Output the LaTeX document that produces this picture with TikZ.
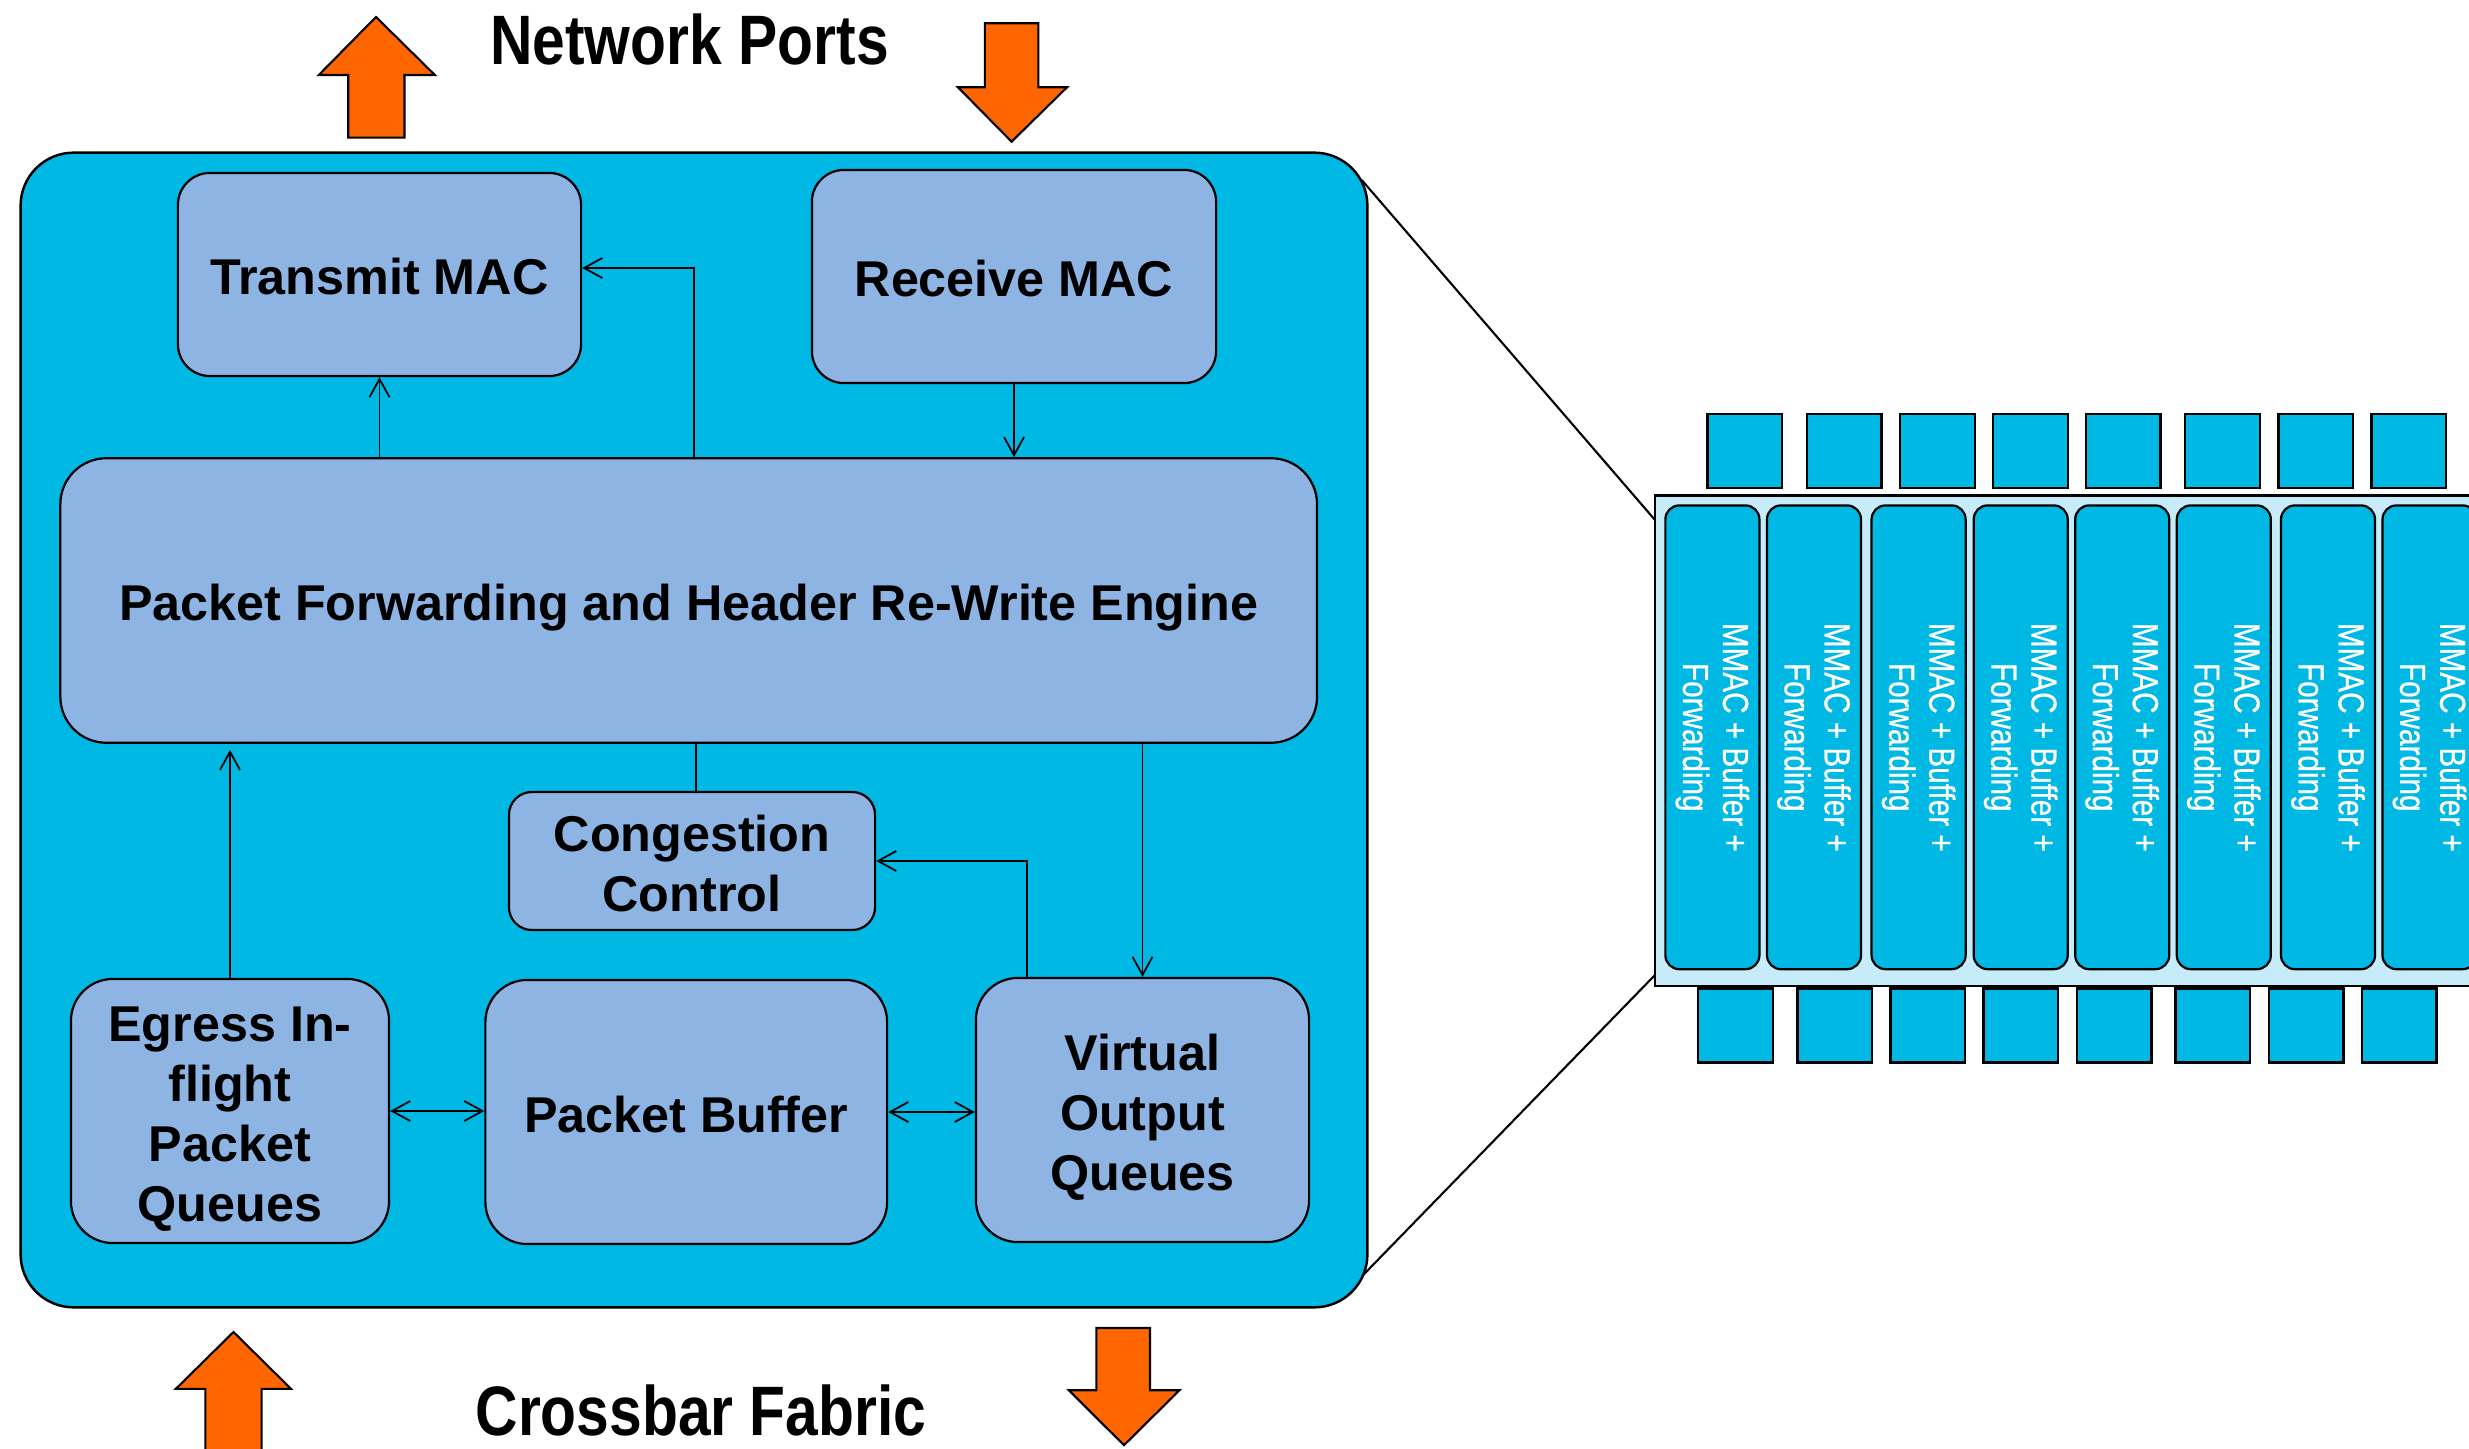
\documentclass[tikz,border=0pt]{standalone}
\usepackage{fontspec}
\setmainfont{Liberation Sans}
\newfontfamily\condfont[FakeStretch=0.84]{Liberation Sans}
\newfontfamily\narrowfont[FakeStretch=0.82,FakeBold=0.6]{Liberation Sans}
\usetikzlibrary{arrows.meta}
\definecolor{chipcyan}{HTML}{00B8E4}
\definecolor{blockblue}{HTML}{8EB4E3}
\definecolor{paleblue}{HTML}{C5ECF8}
\definecolor{portorange}{HTML}{FF6600}
% struts that fix the first-line height and last-line depth of block labels
\newcommand{\topstrut}{\rule{0pt}{14.3pt}}
\newcommand{\botstrut}{\rule[-2.7pt]{0pt}{2.7pt}}
\tikzset{
  chip/.style={draw=black, line width=0.7pt, fill=chipcyan, rounded corners=0.53cm,
    minimum width=13.46cm, minimum height=11.54cm, inner sep=0pt},
  block/.style={draw=black, line width=0.63pt, fill=blockblue, rounded corners=#1,
    inner sep=0pt, align=center, font=\bfseries\fontsize{14.3}{17.07}\selectfont},
  wire/.style={line width=0.5pt},
  link/.style={line width=0.5pt, -{Straight Barb[length=5.2pt,width=5.7pt]}},
  dlink/.style={line width=0.5pt,
    {Straight Barb[length=5.2pt,width=5.7pt]}-{Straight Barb[length=5.2pt,width=5.7pt]}},
  title/.style={font=\condfont\bfseries\fontsize{19.9}{24}\selectfont, inner sep=0pt},
  portarrow/.style={fill=portorange, draw=black, line width=0.6pt, line join=miter},
  callout/.style={line width=0.6pt},
  port/.style={draw=black, line width=0.7pt, fill=chipcyan, minimum width=0.745cm,
    minimum height=0.74cm, inner sep=0pt},
  slice/.style={draw=black, line width=0.63pt, fill=chipcyan, rounded corners=0.14cm,
    rotate=-90, minimum width=4.635cm, minimum height=0.94cm, inner sep=0pt,
    align=center, text=white, font=\narrowfont\fontsize{10.3}{11.38}\selectfont}
}
\begin{document}
\begin{tikzpicture}[x=0.01cm, y=-0.01cm]
\path[use as bounding box] (0,0) rectangle (2469,1449);
\clip (0,0) rectangle (2469,1449);
\fill[white] (0,0) rectangle (2469,1449);

% port direction arrows
\draw[portarrow] (348.2,137.7) -- (348.2,75) -- (318.8,75) -- (376,17) -- (434.8,75)
  -- (404.5,75) -- (404.5,137.7) -- cycle;
\draw[portarrow] (984.8,23.3) -- (1038.4,23.3) -- (1038.4,87.3) -- (1067,87.3)
  -- (1011.6,141.7) -- (958,87.3) -- (984.8,87.3) -- cycle;
\draw[portarrow] (205.4,1470) -- (205.4,1388.8) -- (175.9,1388.8) -- (233.5,1332)
  -- (291,1388.8) -- (261.6,1388.8) -- (261.6,1470) -- cycle;
\draw[portarrow] (1096.4,1328) -- (1150,1328) -- (1150,1390.2) -- (1179.5,1390.2)
  -- (1124,1445.2) -- (1068.8,1390.2) -- (1096.4,1390.2) -- cycle;

\node[title, anchor=base] (np) at (689.5,65) {Network Ports};
\node[title, anchor=base] (cf) at (701,1435) {Crossbar Fabric};

% callout lines to the die view
\coordinate (zA) at (1361.7,180);
\coordinate (zB) at (1655,520);
\coordinate (zC) at (1358.3,1280);
\coordinate (zD) at (1655,975);
\draw[callout] (zA) -- (zB);
\draw[callout] (zC) -- (zD);

% one switch tile
\node[chip] (chip) at (694,730) {};

\node[block=0.32cm, minimum width=4.03cm, minimum height=2.03cm] (tx) at (379.5,274.5)
  {\topstrut Transmit MAC\botstrut};
\node[block=0.32cm, minimum width=4.04cm, minimum height=2.13cm] (rx) at (1014,276.5)
  {\topstrut Receive MAC\botstrut};
\node[block=0.46cm, minimum width=12.56cm, minimum height=2.844cm] (pf) at (688.7,600.5)
  {\topstrut Packet Forwarding and Header Re-Write Engine\botstrut};
\node[block=0.23cm, minimum width=3.66cm, minimum height=1.38cm] (cc) at (692,861)
  {\topstrut Congestion\\Control\botstrut};
\node[block=0.42cm, minimum width=3.18cm, minimum height=2.64cm] (eg) at (230,1111)
  {\topstrut Egress In-\\flight\\Packet\\Queues\botstrut};
\node[block=0.42cm, minimum width=4.015cm, minimum height=2.64cm] (pb) at (686.25,1112)
  {\topstrut Packet Buffer\botstrut};
\node[block=0.42cm, minimum width=3.33cm, minimum height=2.64cm] (voq) at (1142.5,1110)
  {\topstrut Virtual\\Output\\Queues\botstrut};

% data paths
\draw[link] (tx.south |- pf.north) -- (tx.south);
\coordinate (pfUp) at ([xshift=0.053cm]pf.north);
\coordinate (txIn) at ([yshift=0.065cm]tx.east);
\draw[link] (pfUp) |- (txIn);
\draw[link] (rx.south) -- (rx.south |- pf.north);
\coordinate (ccTop) at ([xshift=0.04cm]cc.north);
\draw[wire] (ccTop |- pf.south) -- (ccTop);
\draw[link] (voq.north |- pf.south) -- (voq.north);
\coordinate (voqTap) at ([xshift=-1.155cm]voq.north);
\draw[link] (voqTap) |- (cc.east);
\coordinate (pfIn) at (eg.north |- pf.south);
\draw[link] (eg.north) -- ([yshift=-0.06cm]pfIn);
\draw[dlink] (eg.east) -- (eg.east -| pb.west);
\draw[dlink] (pb.east) -- (pb.east -| voq.west);

% die view: row of tiles
\draw[callout, fill=paleblue] (1655,495.5) rectangle (2520,986);
\foreach \x [count=\i] in {1707.7,1807.1,1900.2,1993.2,2085.8,2185.2,2278.3,2371.4}
  \node[port] (tp\i) at (\x+37.25,451) {};
\foreach \x [count=\i] in {1698.2,1797.6,1890.7,1983.7,2076.8,2175.7,2268.8,2361.8}
  \node[port] (bp\i) at (\x+37.25,1025.3) {};
\foreach \x [count=\i] in {1665.4,1767,1871.6,1973.7,2075.2,2176.8,2281,2382.5}
  \node[slice] (sl\i) at (\x+47,737.3) {MMAC + Buffer +\\Forwarding};
\end{tikzpicture}
\end{document}
